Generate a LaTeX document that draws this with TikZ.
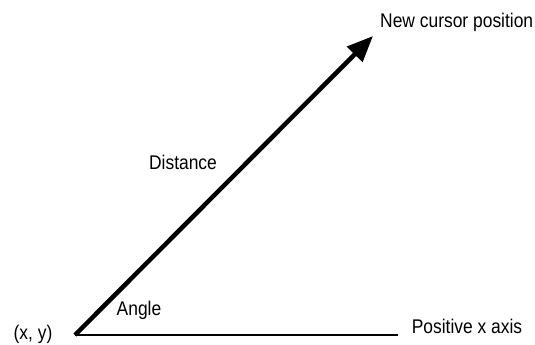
\documentclass[tikz,border=0pt]{standalone}
\usepackage{fontspec}
\setmainfont[FakeStretch=0.88]{Liberation Sans}
\usetikzlibrary{arrows.meta}
\begin{document}
\begin{tikzpicture}[x=1pt,y=1pt,
  lbl/.style={inner sep=0pt, font=\fontsize{19.8}{22}\selectfont},
  vec/.style={line width=4.5pt, -{Triangle[length=26pt,width=21pt]}},
  axisline/.style={line width=1.8pt}]
\useasboundingbox (0,0) rectangle (535,345);
\coordinate (o) at (75,10);
\coordinate (tip) at (373,309);
\coordinate (xend) at (398,10);
\draw[axisline] (o) -- (xend);
\draw[vec] (o) -- (tip);
\node[lbl] (xy) at (33,11) {(x, y)};
\node[lbl] (angle) at (139,35) {Angle};
\node[lbl] (dist) at (183,183) {Distance};
\node[lbl] (posx) at (467,19) {Positive x axis};
\node[lbl, anchor=west] (newpos) at (380,323) {New cursor position};
\end{tikzpicture}
\end{document}
